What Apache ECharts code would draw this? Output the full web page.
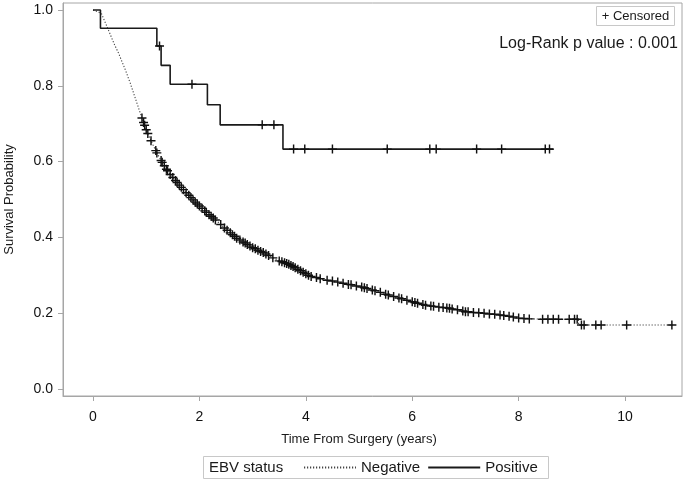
<!DOCTYPE html>
<html><head><meta charset="utf-8">
<script src="https://cdn.jsdelivr.net/npm/echarts@6/dist/echarts.min.js"></script>
<style>html,body{margin:0;padding:0;background:#fff}#c{width:685px;height:484px}</style>
</head><body><div id="c"></div>
<script>
// ---- data ----
const xTicks = [0, 2, 4, 6, 8, 10];
const yTicks = [0.0, 0.2, 0.4, 0.6, 0.8, 1.0];
const seriesNames = ['Negative', 'Positive'];

// EBV Negative: Kaplan-Meier estimate (time in years, survival)
const negCurve = [[0,1.0],[0.1,0.995],[0.16,0.99],[0.29,0.947],[0.4,0.91],[0.48,0.886],[0.6,0.845],[0.70,0.807],[0.80,0.765],[0.92,0.715],[1.01,0.68],[1.10,0.652],[1.20,0.623],[1.32,0.593],[1.45,0.566],[1.64,0.535],[1.89,0.497],[2.14,0.465],[2.33,0.443],[2.51,0.42],[2.7,0.398],[2.89,0.382],[3.07,0.368],[3.26,0.355],[3.5,0.338],[3.7,0.328],[3.9,0.312],[4.08,0.298],[4.33,0.289],[4.64,0.281],[5.08,0.268],[5.39,0.255],[5.71,0.242],[6.02,0.229],[6.33,0.219],[6.58,0.215],[6.77,0.211],[7.02,0.204],[7.40,0.199],[7.78,0.193],[8.03,0.186],[8.5,0.184],[9.12,0.184],[9.13,0.169],[10.9,0.169]];
// EBV Negative: censored observations
const negCensored = [[0.92,0.715],[0.95,0.703],[0.97,0.696],[1.0,0.684],[1.03,0.674],[1.09,0.655],[1.18,0.629],[1.2,0.623],[1.28,0.603],[1.3,0.598],[1.34,0.589],[1.38,0.580],[1.4,0.576],[1.45,0.566],[1.5,0.558],[1.55,0.55],[1.58,0.545],[1.62,0.538],[1.66,0.532],[1.7,0.526],[1.75,0.518],[1.8,0.511],[1.84,0.505],[1.88,0.499],[1.92,0.493],[1.96,0.488],[2.0,0.483],[2.05,0.477],[2.1,0.47],[2.13,0.466],[2.18,0.46],[2.22,0.456],[2.26,0.451],[2.3,0.446],[2.4,0.434],[2.47,0.425],[2.52,0.419],[2.58,0.412],[2.62,0.407],[2.66,0.403],[2.7,0.398],[2.76,0.393],[2.82,0.388],[2.86,0.385],[2.9,0.381],[2.95,0.377],[3.0,0.373],[3.05,0.37],[3.1,0.366],[3.15,0.363],[3.2,0.36],[3.25,0.356],[3.3,0.352],[3.38,0.346],[3.5,0.338],[3.55,0.336],[3.6,0.333],[3.64,0.331],[3.68,0.329],[3.72,0.326],[3.76,0.323],[3.8,0.32],[3.85,0.316],[3.9,0.312],[3.95,0.308],[4.0,0.304],[4.05,0.3],[4.1,0.297],[4.2,0.294],[4.27,0.291],[4.4,0.287],[4.5,0.285],[4.6,0.282],[4.7,0.279],[4.8,0.276],[4.85,0.275],[4.95,0.272],[5.05,0.269],[5.1,0.267],[5.15,0.265],[5.25,0.261],[5.3,0.259],[5.4,0.255],[5.5,0.25],[5.55,0.248],[5.65,0.244],[5.75,0.24],[5.8,0.238],[5.9,0.234],[6.0,0.23],[6.05,0.228],[6.1,0.226],[6.2,0.223],[6.25,0.221],[6.35,0.219],[6.4,0.218],[6.5,0.216],[6.58,0.215],[6.65,0.214],[6.7,0.213],[6.75,0.211],[6.85,0.209],[6.95,0.206],[7.0,0.204],[7.05,0.204],[7.15,0.202],[7.25,0.201],[7.35,0.2],[7.45,0.198],[7.55,0.197],[7.65,0.195],[7.72,0.194],[7.82,0.192],[7.9,0.19],[8.0,0.187],[8.1,0.186],[8.2,0.185],[8.45,0.184],[8.55,0.184],[8.65,0.184],[8.75,0.184],[8.95,0.184],[9.05,0.184],[9.1,0.184],[9.18,0.169],[9.23,0.169],[9.45,0.169],[9.55,0.169],[10.03,0.169],[10.88,0.169]];

// EBV Positive: Kaplan-Meier step estimate
const posCurve = [[0,1.0],[0.14,0.952],[1.2,0.905],[1.28,0.854],[1.45,0.804],[2.15,0.750],[2.39,0.697],[3.57,0.633],[8.65,0.633]];
// EBV Positive: censored observations
const posCensored = [[1.25,0.905],[1.86,0.804],[3.18,0.697],[3.40,0.697],[3.77,0.633],[3.98,0.633],[4.50,0.633],[5.53,0.633],[6.33,0.633],[6.45,0.633],[7.21,0.633],[7.68,0.633],[8.50,0.633],[8.58,0.633]];

const pValueText = 'Log-Rank p value : 0.001';

// ---- chart ----
const FONT = '"Liberation Sans", Arial, sans-serif';
const GREY = '#a6a6a6';
const INK = '#1a1a1a';
const plus = 'path://M4.2,0H5.8V4.2H10V5.8H5.8V10H4.2V5.8H0V4.2H4.2Z';

const chart = echarts.init(document.getElementById('c'), null, {renderer: 'canvas'});
chart.setOption({
  animation: false,
  backgroundColor: '#fff',
  textStyle: {fontFamily: FONT},
  grid: {left: 63, right: 3, top: 3, bottom: 88, show: true, borderColor: GREY, borderWidth: 1,
         containLabel: false, outerBoundsMode: 'none'},
  xAxis: {
    type: 'value', min: -0.564, max: 11.07,
    name: 'Time From Surgery (years)', nameLocation: 'middle', nameGap: 37,
    nameTextStyle: {fontFamily: FONT, fontSize: 13, color: INK, padding: [0, 27, 0, 0]},
    axisLine: {show: true, onZero: false, lineStyle: {color: GREY}},
    axisTick: {show: true, length: 5, lineStyle: {color: GREY}, customValues: xTicks},
    axisLabel: {fontFamily: FONT, fontSize: 14, color: '#111', margin: 14, customValues: xTicks, formatter: v => String(v)},
    splitLine: {show: false}
  },
  yAxis: {
    type: 'value', min: -0.0185, max: 1.0185,
    name: 'Survival Probability', nameLocation: 'middle', nameGap: 47,
    nameTextStyle: {fontFamily: FONT, fontSize: 13, color: INK},
    axisLine: {show: true, onZero: false, lineStyle: {color: GREY}},
    axisTick: {show: true, length: 5, lineStyle: {color: GREY}, customValues: yTicks},
    axisLabel: {fontFamily: FONT, fontSize: 14, color: '#111', margin: 10, customValues: yTicks, formatter: v => v.toFixed(1)},
    splitLine: {show: false}
  },
  legend: {
    data: seriesNames, left: 298, top: 457, padding: [3, 5, 3, 5], itemWidth: 52, itemHeight: 12, itemGap: 7,
    itemStyle: {color: 'rgba(0,0,0,0)', borderWidth: 0},
    textStyle: {fontFamily: FONT, fontSize: 15, color: INK}
  },
  series: [
    {name: seriesNames[0], type: 'line', data: negCurve, symbol: 'none', z: 2,
     lineStyle: {color: '#444', width: 1.1, type: [1.2, 1.8]}, itemStyle: {color: '#444'}},
    {name: seriesNames[1], type: 'line', step: 'end', data: posCurve, symbol: 'none', z: 3,
     lineStyle: {color: INK, width: 1.6}, itemStyle: {color: INK}},
    {name: 'Negative censored', type: 'scatter', data: negCensored, symbol: plus, symbolSize: 9, z: 4,
     itemStyle: {color: '#111', opacity: 1}},
    {name: 'Positive censored', type: 'scatter', data: posCensored, symbol: plus, symbolSize: 9, z: 4,
     itemStyle: {color: '#111', opacity: 1}}
  ],
  graphic: [
    {type: 'rect', shape: {x: 596.5, y: 6.5, width: 78, height: 19}, style: {fill: '#fff', stroke: '#c8c8c8', lineWidth: 1}},
    {type: 'text', x: 635.5, y: 16, style: {text: '+ Censored', font: '13px ' + FONT, fill: INK, align: 'center', verticalAlign: 'middle'}},
    {type: 'text', x: 678, y: 44, style: {text: pValueText, font: '16px ' + FONT, fill: INK, align: 'right', verticalAlign: 'middle'}},
    {type: 'rect', shape: {x: 203.5, y: 456.5, width: 345, height: 22}, style: {fill: 'none', stroke: '#c8c8c8', lineWidth: 1}},
    {type: 'text', x: 209, y: 467.5, style: {text: 'EBV status', font: '15px ' + FONT, fill: INK, align: 'left', verticalAlign: 'middle'}}
  ]
});
</script></body></html>
